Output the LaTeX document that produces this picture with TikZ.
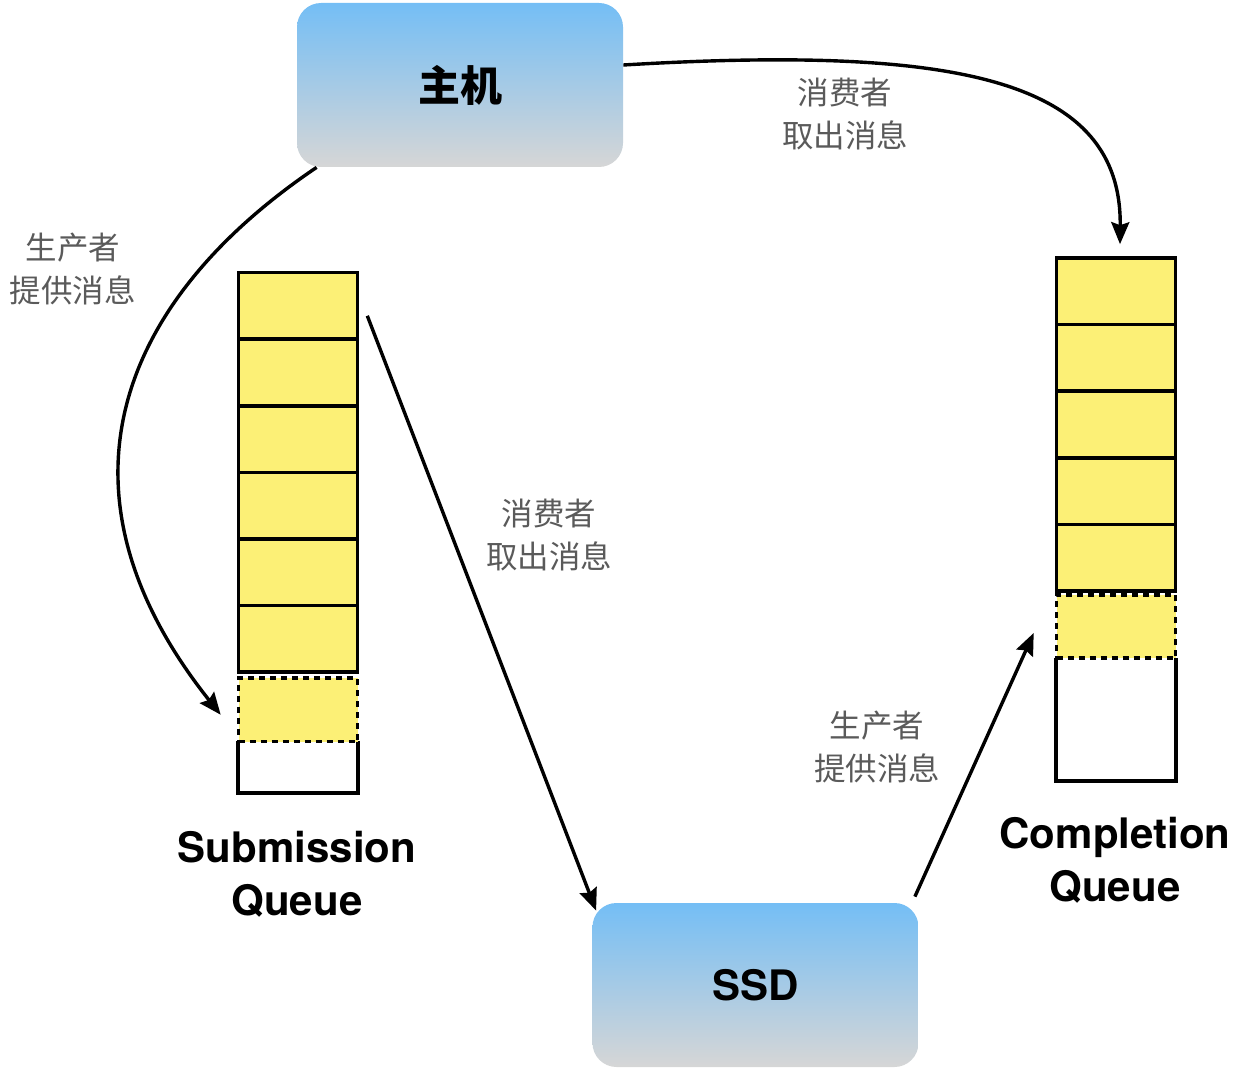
\documentclass[tikz,border=0pt]{standalone}
\usepackage{fontspec}
\setmainfont{TeX Gyre Heros}
\newfontfamily\cjk{Noto Sans CJK SC}
\usetikzlibrary{arrows.meta}
\definecolor{qslot}{RGB}{252,240,118}
\definecolor{devtop}{RGB}{116,190,245}
\definecolor{devbottom}{RGB}{214,214,214}
\definecolor{qnote}{RGB}{90,90,90}
\tikzstyle{qslot}=[rectangle, draw, line width=1.8pt, fill=qslot, inner sep=0pt, minimum width=59.5pt, minimum height=33.3pt]
\tikzstyle{qnext}=[rectangle, draw, line width=1.8pt, dash pattern=on 3pt off 2.5pt, fill=qslot, inner sep=0pt, minimum width=59.5pt, minimum height=31.75pt]
\tikzstyle{qfree}=[rectangle, inner sep=0pt, minimum width=59.5pt]
\tikzstyle{device}=[rectangle, rounded corners=12pt, top color=devtop, bottom color=devbottom, minimum width=163pt, minimum height=82pt, font=\fontsize{21}{26}\selectfont\bfseries]
\tikzstyle{qtitle}=[align=center, font=\fontsize{21}{26.5}\selectfont\bfseries]
\tikzstyle{qnote}=[align=center, text=qnote, font=\cjk\fontsize{15.75}{21.5}\selectfont]
\tikzstyle{qarrow}=[line width=1.7pt, -{Stealth[length=11pt, width=9pt, inset=1.5pt]}]
\newcommand{\queueslot}[3]{
	\node[#1] (#2) at (#3) {};}
\newcommand{\queuefree}[3]{
	\node[qfree, minimum height=#3] (#1) at (#2) {};
	\draw[line width=1.8pt] (#1.north west) -- (#1.south west) -- (#1.south east) -- (#1.north east);}

\begin{document}
\begin{tikzpicture}[x=0.5pt, y=-0.5pt]
	\useasboundingbox (0,0) rectangle (1244,1070);

	\node[device] (host) at (460,85) {\cjk 主机};
	\node[device] (ssd) at (755.5,985) {SSD};

	\queueslot{qslot}{sq1}{298,305.8}
	\queueslot{qslot}{sq2}{298,372.4}
	\queueslot{qslot}{sq3}{298,439}
	\queueslot{qslot}{sq4}{298,505.6}
	\queueslot{qslot}{sq5}{298,572.2}
	\queueslot{qslot}{sq6}{298,638.8}
	\queuefree{sqfree}{298,767}{25.5pt}
	\queueslot{qnext}{sqnext}{298,709.75}

	\queueslot{qslot}{cq1}{1116,291.3}
	\queueslot{qslot}{cq2}{1116,357.9}
	\queueslot{qslot}{cq3}{1116,424.5}
	\queueslot{qslot}{cq4}{1116,491.1}
	\queueslot{qslot}{cq5}{1116,557.7}
	\queuefree{cqfree}{1116,719.25}{61.25pt}
	\queueslot{qnext}{cqnext}{1116,626.5}

	\node[qtitle] (sqtitle) at (297,874) {Submission\\Queue};
	\node[qtitle] (cqtitle) at (1115,860) {Completion\\Queue};

	\node[qnote] (hostput) at (73,269) {生产者\\提供消息};
	\node[qnote] (hostget) at (845,114.5) {消费者\\取出消息};
	\node[qnote] (ssdget) at (549,535) {消费者\\取出消息};
	\node[qnote] (ssdput) at (877,747) {生产者\\提供消息};

	\draw[qarrow] ([xshift=10pt]host.south west) .. controls (120,300) and (42,490) .. ([xshift=-8pt, yshift=-2.5pt]sqnext.west);
	\draw[qarrow] ([yshift=10pt]host.east) .. controls (960,45) and (1122,80) .. ([xshift=2pt, yshift=6pt]cq1.north);
	\draw[qarrow] ([xshift=4pt, yshift=-5pt]sq1.east) -- ([xshift=2pt, yshift=-4pt]ssd.north west);
	\draw[qarrow] ([xshift=-2pt, yshift=3pt]ssd.north east) -- ([xshift=-10.5pt, yshift=-3.25pt]cqnext.west);
\end{tikzpicture}
\end{document}
